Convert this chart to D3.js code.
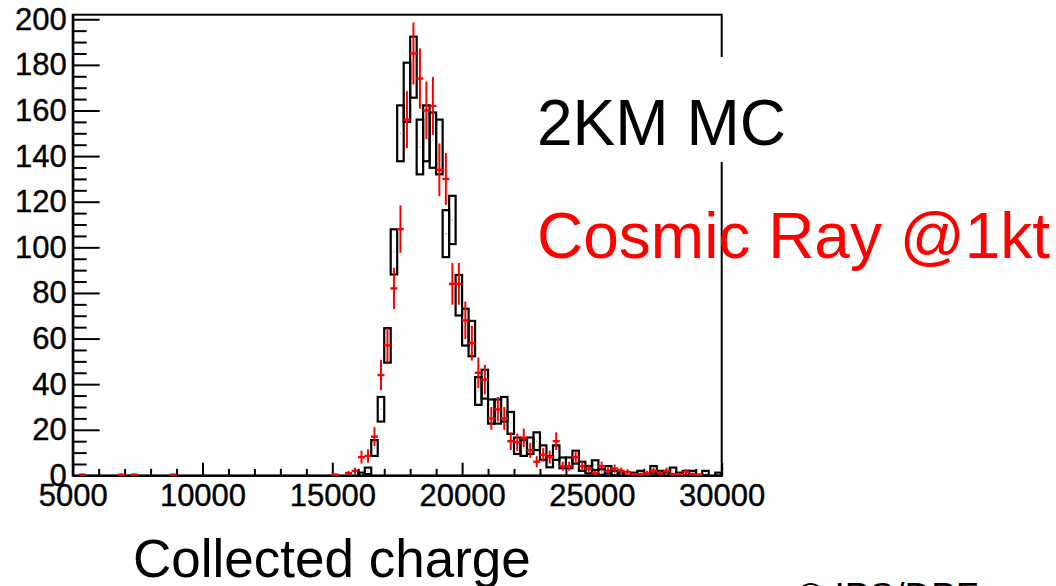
<!DOCTYPE html>
<html>
<head>
<meta charset="utf-8">
<script src="https://cdn.jsdelivr.net/npm/d3@7"></script>
<style>
  html, body { margin: 0; padding: 0; background: #fff; overflow: hidden; }
  text { font-family: "Liberation Sans", Arial, Helvetica, sans-serif; }
</style>
</head>
<body>
<svg id="chart" width="1056" height="586"></svg>
<script>
// Histogram binning (100 bins of 250 from 5000 to 30000)
const xDomain = [5000, 30000];
const binWidth = 250;
const yDomain = [0, 202];

const xMajorTicks = [5000, 10000, 15000, 20000, 25000, 30000];
const yMajorTicks = [0, 20, 40, 60, 80, 100, 120, 140, 160, 180, 200];

// Simulated sample, entries per bin (drawn as error boxes)
const mcCounts = [
  0, 0, 0, 0, 0, 0, 0, 0, 0, 0,
  0, 0, 0, 0, 0, 0, 0, 0, 0, 0,
  0, 0, 0, 0, 0, 0, 0, 0, 0, 0,
  0, 0, 0, 0, 0, 0, 0, 0, 0, 0,
  0, 0, 0, 0, 0.5, 2, 12, 29, 57, 98,
  150, 168, 179, 144, 150, 147, 144, 106, 112, 79,
  65, 60, 37, 40, 28, 28, 29, 23, 13, 12,
  13, 15, 10, 6, 10, 5.5, 5.5, 8, 4, 2.5,
  4.5, 1.5, 2.5, 1, 0.5, 0, 0.5, 1, 0, 2.5,
  1, 0.5, 2, 0.5, 1, 1, 0, 1, 0, 0.5
];

// Cosmic-ray sample, entries per bin (drawn as points with error bars)
const dataCounts = [
  0, 0.3, 0, 0, 0, 0, 0, 0.3, 0, 0.3,
  0, 0, 0, 0, 0, 0.3, 0, 0, 0, 0,
  0, 0, 0, 0, 0, 0, 0, 0, 0, 0,
  0, 0, 0, 0, 0, 0, 0, 0, 0, 0,
  0.3, 0, 1, 2, 8, 8.5, 17, 44, 57, 82,
  108, 156, 185, 174, 160, 162, 134, 130, 84, 84,
  68, 58, 45, 42, 25, 29, 25, 15, 14.5, 16.5,
  11, 6, 9, 8, 15, 4, 4, 8, 4, 3,
  1, 4, 2, 3, 2, 1.5, 0.5, 0.5, 1, 2,
  1, 2, 0.5, 0.5, 1.5, 0.5, 0.3, 0, 0, 0
];

const mcLabel = "2KM MC";
const dataLabel = "Cosmic Ray @1kt";
const xTitle = "Collected charge";
const creditText = "\u00A9 IPS/DPF";

const frame = { left: 72.7, right: 721.7, top: 14.7, bottom: 475.4 };

const svg = d3.select("#chart");

const x = d3.scaleLinear().domain(xDomain).range([frame.left, frame.right]);
const y = d3.scaleLinear().domain(yDomain).range([frame.bottom, frame.top]);

const bins = d3.range(mcCounts.length).map(i => ({
  lo: xDomain[0] + i * binWidth,
  hi: xDomain[0] + (i + 1) * binWidth,
  mc: mcCounts[i],
  data: dataCounts[i]
}));

// Frame
svg.append("rect")
  .attr("x", frame.left).attr("y", frame.top)
  .attr("width", frame.right - frame.left)
  .attr("height", frame.bottom - frame.top)
  .attr("fill", "none").attr("stroke", "#000").attr("stroke-width", 2);

// Y axis: major and minor ticks pointing into the frame
const yMinorTicks = d3.range(0, 201, 5).filter(v => v % 20 !== 0);
const yAxisG = svg.append("g").attr("transform", `translate(${frame.left},0)`);
yAxisG.call(d3.axisLeft(y).tickValues(yMajorTicks).tickSizeInner(-27).tickSizeOuter(0).tickPadding(6).tickFormat(d3.format("d")));
const yMinorG = svg.append("g").attr("transform", `translate(${frame.left},0)`);
yMinorG.call(d3.axisLeft(y).tickValues(yMinorTicks).tickSizeInner(-14).tickSizeOuter(0).tickFormat(""));

// X axis
const xMinorTicks = d3.range(5000, 30001, 1000).filter(v => v % 5000 !== 0);
const xAxisG = svg.append("g").attr("transform", `translate(0,${frame.bottom})`);
xAxisG.call(d3.axisBottom(x).tickValues(xMajorTicks).tickSizeInner(-12.7).tickSizeOuter(0).tickPadding(9).tickFormat(d3.format("d")));
const xMinorG = svg.append("g").attr("transform", `translate(0,${frame.bottom})`);
xMinorG.call(d3.axisBottom(x).tickValues(xMinorTicks).tickSizeInner(-6.5).tickSizeOuter(0).tickFormat(""));

svg.selectAll(".domain").attr("stroke", "#000").attr("stroke-width", 2);
svg.selectAll(".tick line").attr("stroke", "#000").attr("stroke-width", 2);
svg.selectAll(".tick text").attr("font-size", 31).attr("fill", "#000")
  .attr("stroke", "#000").attr("stroke-width", 0.4)
  .style("font-family", "'Liberation Sans', Arial, Helvetica, sans-serif");

// Simulated sample: boxes spanning value ± sqrt(value)
const mcBins = bins.filter(b => b.mc > 0);
svg.append("g").selectAll("rect")
  .data(mcBins)
  .join("rect")
  .attr("x", b => x(b.lo))
  .attr("width", b => x(b.hi) - x(b.lo))
  .attr("y", b => y(Math.min(yDomain[1], b.mc + Math.sqrt(b.mc))))
  .attr("height", b => y(Math.max(0, b.mc - Math.sqrt(b.mc))) - y(Math.min(yDomain[1], b.mc + Math.sqrt(b.mc))))
  .attr("fill", "none").attr("stroke", "#000").attr("stroke-width", 2.2);

// tiny centre markers of the simulated sample
svg.append("g").selectAll("rect")
  .data(mcBins)
  .join("rect")
  .attr("x", b => x((b.lo + b.hi) / 2) - 0.6)
  .attr("y", b => y(b.mc) - 0.6)
  .attr("width", 1.2).attr("height", 1.2)
  .attr("fill", "#999");

// Cosmic-ray sample: points with error bars
const dataBins = bins.filter(b => b.data > 0);
const dataG = svg.append("g").attr("stroke", "#ff0000");
dataG.selectAll("line.err")
  .data(dataBins)
  .join("line")
  .attr("class", "err")
  .attr("x1", b => x((b.lo + b.hi) / 2))
  .attr("x2", b => x((b.lo + b.hi) / 2))
  .attr("y1", b => y(b.data + Math.sqrt(b.data)))
  .attr("y2", b => y(Math.max(0, b.data - Math.sqrt(b.data))))
  .attr("stroke-width", 2);
dataG.selectAll("line.mark")
  .data(dataBins)
  .join("line")
  .attr("class", "mark")
  .attr("x1", b => x((b.lo + b.hi) / 2) - 3.5)
  .attr("x2", b => x((b.lo + b.hi) / 2) + 3.5)
  .attr("y1", b => y(b.data))
  .attr("y2", b => y(b.data))
  .attr("stroke-width", 2.4);

// White label box that sits over the frame's right edge
svg.append("rect")
  .attr("x", 522).attr("y", 57)
  .attr("width", 534).attr("height", 105)
  .attr("fill", "#fff");

svg.append("text")
  .attr("x", 537).attr("y", 145)
  .attr("font-size", 64).attr("fill", "#000")
  .text(mcLabel);

svg.append("text")
  .attr("x", 537).attr("y", 258)
  .attr("font-size", 64).attr("fill", "#ff0000")
  .text(dataLabel);

// Axis title
svg.append("text")
  .attr("x", 133).attr("y", 577)
  .attr("font-size", 53).attr("fill", "#000")
  .text(xTitle);

// Credit line at the bottom edge
svg.append("text")
  .attr("x", 797).attr("y", 609)
  .attr("font-size", 37).attr("fill", "#000")
  .text(creditText);
</script>
</body>
</html>
